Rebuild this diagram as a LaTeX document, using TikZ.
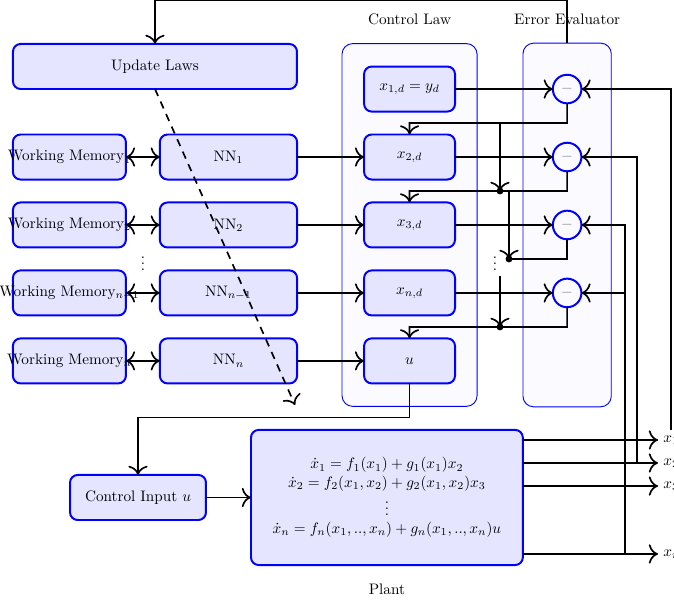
\documentclass[tikz,border=0pt]{standalone}
\usepackage{amsmath}
\usepackage{amssymb}
\usepackage{tikz}
\usetikzlibrary{
    arrows.meta,
    positioning,
    fit,
    calc,
    backgrounds
}
\tikzset{
  block/.style   = {draw=blue, fill=blue!10, line width=1.3pt, rounded corners=5pt,
                    minimum height=1.04cm, align=center, outer sep=0pt},
  wmblock/.style = {block, minimum width=2.61cm},
  nnblock/.style = {block, minimum width=3.17cm},
  xdblock/.style = {block, minimum width=2.10cm},
  group/.style   = {draw=blue, fill=blue!2, line width=0.6pt, rounded corners=7pt},
  sumnode/.style = {draw=blue, circle, line width=1.3pt, minimum size=0.66cm,
                    inner sep=0pt, outer sep=0pt, text=gray},
  jdot/.style    = {circle, fill=black, inner sep=0pt, minimum size=0.16cm},
  arr/.style     = {-{To[scale=1.5]}, line width=1.1pt},
  darr/.style    = {{To[scale=1.5]}-{To[scale=1.5]}, line width=1.1pt},
  wire/.style    = {line width=1.1pt}
}
\newcommand{\wmlabel}[1]{\makebox[0pt]{Working Memory$_{#1}$}}

\begin{document}
\begin{tikzpicture}[node distance=0.53cm]
  \useasboundingbox (0,0) rectangle (15.57,-13.91);
  \node[block, minimum width=6.56cm] (upd) at (3.58,-1.536) {Update Laws};
  \node[nnblock] (nn1) at (5.278,-3.627) {NN$_1$};
  \node[nnblock, below=of nn1] (nn2) {NN$_2$};
  \node[nnblock, below=of nn2] (nn3) {NN$_{n-1}$};
  \node[nnblock, below=of nn3] (nn4) {NN$_n$};
  \node[wmblock, left=0.785cm of nn1] (wm1) {\wmlabel{1}};
  \node[wmblock, left=0.785cm of nn2] (wm2) {\wmlabel{2}};
  \node[wmblock, left=0.785cm of nn3] (wm3) {\wmlabel{n-1}};
  \node[wmblock, left=0.785cm of nn4] (wm4) {\wmlabel{n}};
  \node (vd1) at ($(wm2.east)!.5!(nn3.west)$) {$\vdots$};

  \node[xdblock, right=1.548cm of nn1] (xd2) {$x_{2,d}$};
  \node[xdblock, above=of xd2] (xd1) {$x_{1,d} = y_d$};
  \node[xdblock, below=of xd2] (xd3) {$x_{3,d}$};
  \node[xdblock, below=of xd3] (xdn) {$x_{n,d}$};
  \node[xdblock, below=of xdn] (cu) {$u$};

  \node[sumnode, right=2.26cm of xd1] (e1) {$-$};
  \node[sumnode, right=2.26cm of xd2] (e2) {$-$};
  \node[sumnode, right=2.26cm of xd3] (e3) {$-$};
  \node[sumnode, right=2.26cm of xdn] (e4) {$-$};

  \node[block, minimum width=3.14cm] (cin) at (3.188,-11.492) {Control Input $u$};
  \node[block, minimum width=6.28cm, minimum height=3.12cm, right=1.04cm of cin] (plant)
       {$\dot{x}_1 = f_1(x_1) + g_1(x_1)x_2$\\
        $\dot{x}_2 = f_2(x_1,x_2) + g_2(x_1,x_2)x_3$\\
        $\vdots$\\
        $\dot{x}_n = f_n(x_1,..,x_n) + g_n(x_1,..,x_n)u$};
  \node[below=0.31cm of plant] (plantlbl) {Plant};

  \begin{scope}[on background layer]
    \node[group, fit=(xd1)(cu), inner xsep=0.51cm, inner ysep=0.53cm] (clbox) {};
    \node[group, fit=(e1)(e4)(clbox.north -| e1)(clbox.south -| e1),
          inner xsep=0.69cm, inner ysep=0pt] (eebox) {};
  \end{scope}
  \node[above=0.29cm of clbox] (cltitle) {Control Law};
  \node[above=0.29cm of eebox] (eetitle) {Error Evaluator};

  \node[anchor=west] (out1) at (15.2,-10.164) {$x_1$};
  \node[anchor=west] (out2) at (15.2,-10.695) {$x_2$};
  \node[anchor=west] (out3) at (15.2,-11.227) {$x_3$};
  \node[anchor=west] (outn) at (15.2,-12.797) {$x_n$};

  \coordinate (topy) at (0,0.005);
  \coordinate (jl) at (11.55,0);
  \coordinate (jr) at (11.758,0);
  \coordinate (tap2) at (14.715,0);
  \coordinate (tapn) at (14.438,0);
  \coordinate (dend) at (6.815,-9.356);
  \coordinate (m12) at ($(xd1.south)!.5!(xd2.north)$);
  \coordinate (m23) at ($(xd2.south)!.5!(xd3.north)$);
  \coordinate (m34) at ($(xd3.south)!.5!(xdn.north)$);
  \coordinate (m45) at ($(xdn.south)!.5!(cu.north)$);

  \node[jdot] (d1) at (jl |- m23) {};
  \node[jdot] (d2) at (jr |- m34) {};
  \node[jdot] (d3) at (jl |- m45) {};
  \node (vd2) at ($(jl |- m34)+(-0.115,0)$) {$\vdots$};

  \draw[arr] (eebox.north) -- (eebox.north |- topy) -| (upd.north);
  \draw[arr, dash pattern=on 5pt off 4pt] (upd.south) -- (dend);

  \foreach \i in {1,...,4}
    \draw[darr] (wm\i) -- (nn\i);
  \draw[arr] (nn1) -- (xd2);
  \draw[arr] (nn2) -- (xd3);
  \draw[arr] (nn3) -- (xdn);
  \draw[arr] (nn4) -- (cu);

  \draw[arr] (xd1) -- (e1);
  \draw[arr] (xd2) -- (e2);
  \draw[arr] (xd3) -- (e3);
  \draw[arr] (xdn) -- (e4);

  \draw[arr] (e1.south) |- (m12) -- (xd2.north);
  \draw[arr] (e2.south) |- (m23) -- (xd3.north);
  \draw[wire] (e3.south) |- (d2.center);
  \draw[arr] (e4.south) |- (m45) -- (cu.north);
  \draw[arr] (jl |- m12) -- (d1.center);
  \draw[arr] (jr |- m23) -- (d2.center);
  \draw[arr] (jl |- vd2.south) -- (d3.center);

  \draw[arr] (cu.south) -- ++(0,-0.79) -| (cin.north);
  \draw[arr] (cin) -- (plant);

  \draw[arr] (plant.east |- out1) -- (out1);
  \draw[arr] (plant.east |- out2) -- (out2);
  \draw[arr] (plant.east |- out3) -- (out3);
  \draw[arr] (plant.east |- outn) -- (outn);

  \draw[arr] (out1.north) |- (e1.east);
  \draw[arr] (tap2 |- out2) |- (e2.east);
  \draw[arr] (tapn |- outn) |- (e3.east);
  \draw[arr] (tapn |- outn) |- (e4.east);
\end{tikzpicture}
\end{document}
